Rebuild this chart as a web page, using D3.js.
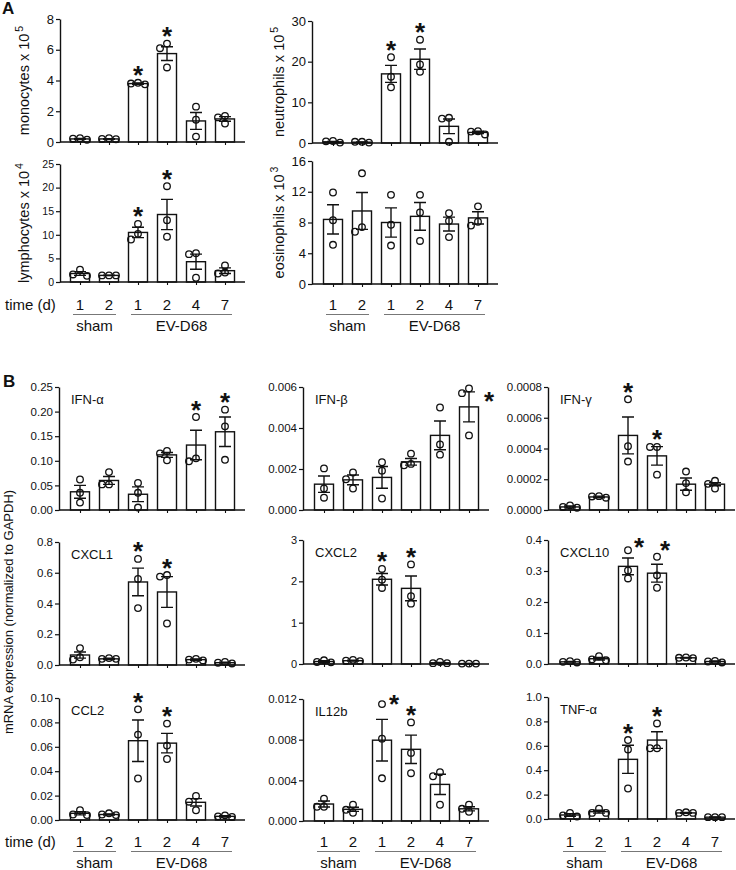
<!DOCTYPE html>
<html><head><meta charset="utf-8">
<script src="https://cdn.jsdelivr.net/npm/d3@7"></script>
<style>
body{margin:0;background:#fff}
svg{display:block}
text{font-family:"Liberation Sans",Arial,Helvetica,sans-serif;fill:#111}
</style>
</head><body>
<svg id="chart" width="736" height="870"></svg>
<script>
// ---------------- DATA ----------------
const timeLabels = ["1", "2", "1", "2", "4", "7"];
const groupNames = ["sham", "EV-D68"];
const groupSpans = [[0, 1], [2, 5]];

// Panel A
const monoMean = [0.2, 0.2, 3.8, 5.75, 1.37, 1.5];
const monoSem = [0.03, 0.02, 0.04, 0.45, 0.55, 0.15];
const monoPts = [[0.25, 0.15, 0.22], [0.25, 0.2, 0.18], [3.85, 3.75, 3.8], [6.4, 6.1, 4.85], [2.3, 1.45, 0.35], [1.2, 1.6, 1.7]];
const monoStars = [2, 3];

const neutMean = [0.3, 0.2, 17.0, 20.6, 4.1, 2.6];
const neutSem = [0.1, 0.05, 2.1, 2.5, 1.8, 0.3];
const neutPts = [[0.5, 0.1, 0.4], [0.3, 0.1, 0.3], [21.1, 16.3, 13.7], [25.4, 19.3, 17.5], [6.2, 6.0, 0.3], [2.9, 2.1, 2.8]];
const neutStars = [2, 3];

const lympMean = [1.8, 1.4, 10.5, 14.3, 4.3, 2.4];
const lympSem = [0.4, 0.05, 1.1, 3.2, 1.6, 0.6];
const lympPts = [[2.6, 1.6, 1.3], [1.4, 1.4, 1.4], [12.3, 10.2, 9.0], [20.3, 13.1, 9.6], [6.1, 5.9, 0.9], [3.5, 2.0, 1.8]];
const lympStars = [2, 3];

const eosiMean = [8.4, 9.5, 8.0, 8.8, 7.8, 8.6];
const eosiSem = [1.9, 2.4, 1.9, 1.8, 0.9, 0.8];
const eosiPts = [[11.9, 8.3, 5.1], [14.4, 7.4, 6.8], [11.6, 7.7, 5.0], [11.6, 9.3, 5.6], [9.2, 8.2, 6.1], [10.1, 8.1, 7.6]];
const eosiStars = [];

// Panel B
const ifnaMean = [0.037, 0.060, 0.032, 0.112, 0.132, 0.159];
const ifnaSem = [0.013, 0.008, 0.015, 0.005, 0.030, 0.030];
const ifnaPts = [[0.062, 0.035, 0.015], [0.077, 0.052, 0.052], [0.055, 0.035, 0.005], [0.120, 0.115, 0.101], [0.189, 0.105, 0.099], [0.204, 0.170, 0.102]];
const ifnaStars = [4, 5];

const ifnbMean = [0.00126, 0.00147, 0.00159, 0.00235, 0.00364, 0.00503];
const ifnbSem = [0.0004, 0.00024, 0.00053, 0.00016, 0.0007, 0.00073];
const ifnbPts = [[0.00203, 0.00105, 0.0006], [0.00183, 0.0015, 0.00105], [0.00233, 0.00192, 0.00056], [0.00275, 0.00225, 0.00218], [0.005, 0.0032, 0.0027], [0.00593, 0.0057, 0.00364]];
const ifnbStars = [5];

const ifngMean = [0.00002, 0.000085, 0.000485, 0.000352, 0.000168, 0.000168];
const ifngSem = [0.000006, 0.000005, 0.00012, 0.00006, 0.00004, 0.00001];
const ifngPts = [[0.00003, 0.000015, 0.00002], [0.00009, 0.00008, 0.000088], [0.00072, 0.000415, 0.000315], [0.00041, 0.00041, 0.00023], [0.00025, 0.000175, 0.000115], [0.00019, 0.00017, 0.00014]];
const ifngStars = [2, 3];

const cxcl1Mean = [0.065, 0.04, 0.54, 0.475, 0.035, 0.015];
const cxcl1Sem = [0.02, 0.004, 0.09, 0.10, 0.004, 0.003];
const cxcl1Pts = [[0.11, 0.05, 0.035], [0.045, 0.04, 0.04], [0.69, 0.56, 0.37], [0.585, 0.575, 0.27], [0.04, 0.03, 0.035], [0.02, 0.01, 0.015]];
const cxcl1Stars = [2, 3];

const cxcl2Mean = [0.06, 0.08, 2.05, 1.83, 0.03, 0.01];
const cxcl2Sem = [0.02, 0.01, 0.14, 0.30, 0.01, 0.003];
const cxcl2Pts = [[0.09, 0.04, 0.05], [0.1, 0.07, 0.08], [2.3, 2.04, 1.84], [2.41, 1.64, 1.46], [0.05, 0.02, 0.02], [0.01, 0.01, 0.01]];
const cxcl2Stars = [2, 3];

const cxcl10Mean = [0.007, 0.017, 0.315, 0.293, 0.02, 0.008];
const cxcl10Sem = [0.001, 0.004, 0.027, 0.029, 0.001, 0.002];
const cxcl10Pts = [[0.009, 0.005, 0.007], [0.025, 0.015, 0.012], [0.367, 0.302, 0.276], [0.346, 0.286, 0.246], [0.021, 0.02, 0.019], [0.01, 0.005, 0.008]];
const cxcl10Stars = [2, 3];

const ccl2Mean = [0.0055, 0.0045, 0.065, 0.063, 0.0145, 0.003];
const ccl2Sem = [0.0013, 0.0005, 0.017, 0.008, 0.003, 0.0005];
const ccl2Pts = [[0.008, 0.004, 0.0045], [0.0055, 0.004, 0.0045], [0.0907, 0.07, 0.034], [0.079, 0.061, 0.05], [0.0197, 0.015, 0.008], [0.0038, 0.003, 0.0025]];
const ccl2Stars = [2, 3];

const il12bMean = [0.00167, 0.00115, 0.00795, 0.00705, 0.0036, 0.0012];
const il12bSem = [0.0003, 0.0002, 0.00205, 0.0014, 0.001, 0.0002];
const il12bPts = [[0.0022, 0.0014, 0.0014], [0.0016, 0.0011, 0.0008], [0.0115, 0.0081, 0.0042], [0.0097, 0.0067, 0.0047], [0.0048, 0.0044, 0.0016], [0.0016, 0.0012, 0.0009]];
const il12bStars = [2, 3];

const tnfMean = [0.033, 0.06, 0.489, 0.647, 0.05, 0.015];
const tnfSem = [0.01, 0.012, 0.115, 0.068, 0.003, 0.002];
const tnfPts = [[0.05, 0.03, 0.02], [0.085, 0.05, 0.05], [0.647, 0.57, 0.25], [0.783, 0.58, 0.58], [0.055, 0.05, 0.05], [0.015, 0.015, 0.015]];
const tnfStars = [2, 3];

// tick values
const monoTicks = [0, 2, 4, 6, 8];
const neutTicks = [0, 10, 20, 30];
const lympTicks = [0, 5, 10, 15, 20, 25];
const eosiTicks = [0, 4, 8, 12, 16];
const ifnaTicks = [0, 0.05, 0.10, 0.15, 0.20, 0.25];
const ifnbTicks = [0, 0.002, 0.004, 0.006];
const ifngTicks = [0, 0.0002, 0.0004, 0.0006, 0.0008];
const cxcl1Ticks = [0, 0.2, 0.4, 0.6, 0.8];
const cxcl2Ticks = [0, 1, 2, 3];
const cxcl10Ticks = [0, 0.1, 0.2, 0.3, 0.4];
const ccl2Ticks = [0, 0.02, 0.04, 0.06, 0.08, 0.10];
const il12bTicks = [0, 0.004, 0.008, 0.012];
const tnfTicks = [0, 0.2, 0.4, 0.6, 0.8, 1.0];

// ---------------- DRAWING ----------------
const svg = d3.select("#chart");
const STEP = 29, BARW = 19;

function drawPanel(p) {
  const g = svg.append("g");
  const idx = d3.range(p.mean.length);
  const x = d3.scalePoint().domain(idx).range([p.x0 + p.first, p.x0 + p.first + STEP * (idx.length - 1)]);
  const y = d3.scaleLinear().domain([0, p.ticks[p.ticks.length - 1]]).range([p.bottom, p.top]);
  const xEnd = x(idx.length - 1) + 20;

  // bars
  g.selectAll("rect.bar").data(idx).join("rect")
    .attr("x", i => x(i) - BARW / 2).attr("width", BARW)
    .attr("y", i => y(p.mean[i])).attr("height", i => p.bottom - y(p.mean[i]))
    .attr("fill", "#fff").attr("stroke", "#111").attr("stroke-width", 1.4);

  // points (simple swarm)
  idx.forEach(i => {
    const placed = [];
    const vals = p.pts[i].slice().sort((a, b) => b - a);
    vals.forEach(v => {
      const py = y(v);
      const offs = [0, -7, 7, -14, 14];
      let ox = 0;
      for (const o of offs) {
        if (placed.every(q => Math.hypot(q[0] - o, q[1] - py) >= 6.8)) { ox = o; break; }
      }
      placed.push([ox, py]);
      g.append("circle").attr("cx", x(i) + ox).attr("cy", py).attr("r", 3.3)
        .attr("fill", "none").attr("stroke", "#111").attr("stroke-width", 1.3);
    });
  });

  // error bars
  idx.forEach(i => {
    const yt = y(p.mean[i] + p.sem[i]), yb = y(Math.max(0, p.mean[i] - p.sem[i]));
    const cx = x(i);
    g.append("path").attr("d", `M${cx},${yt}V${yb}M${cx - 6},${yt}H${cx + 6}M${cx - 6},${yb}H${cx + 6}`)
      .attr("stroke", "#111").attr("stroke-width", 1.4).attr("fill", "none");
  });

  // stars
  p.stars.forEach(i => {
    const maxV = Math.max(d3.max(p.pts[i]), p.mean[i] + p.sem[i]);
    let sx = x(i), sy = y(maxV) - 13;
    if (p.sideStars && p.sideStars[i] !== undefined) {
      sx = x(i) + p.sideStars[i][0];
      sy = y(maxV) + p.sideStars[i][1];
    }
    g.append("text").attr("x", sx).attr("y", sy + 14.5).attr("text-anchor", "middle")
      .style("font-size", "26px").style("font-weight", "bold").text("*");
  });

  // y axis
  const ya = g.append("g").attr("transform", `translate(${p.x0},0)`)
    .call(d3.axisLeft(y).tickValues(p.ticks).tickFormat(p.fmt).tickSize(4).tickSizeOuter(0).tickPadding(2));
  ya.select(".domain").attr("stroke", "#111").attr("stroke-width", 1.4);
  ya.selectAll(".tick line").attr("stroke", "#111").attr("stroke-width", 1.2);
  ya.selectAll(".tick text").attr("fill", "#111").style("font-size", p.tickFont + "px")
    .style("font-family", '"Liberation Sans",Arial,sans-serif');

  // x axis
  const xa = g.append("g").attr("transform", `translate(0,${p.bottom})`)
    .call(d3.axisBottom(x).tickFormat("").tickSize(3).tickSizeOuter(0));
  xa.select(".domain").remove();
  xa.selectAll(".tick line").attr("stroke", "#111").attr("stroke-width", 1.1);
  g.append("line").attr("x1", p.x0).attr("x2", xEnd).attr("y1", p.bottom).attr("y2", p.bottom)
    .attr("stroke", "#111").attr("stroke-width", 1.4);

  // y label
  if (p.ylab) {
    const t = g.append("text").attr("transform", `translate(${p.ylabX},${(p.top + p.bottom) / 2}) rotate(-90)`)
      .attr("text-anchor", "middle").style("font-size", "14.5px");
    t.append("tspan").text(p.ylab[0]);
    t.append("tspan").attr("dy", -6).attr("dx", 2).style("font-size", "10.5px").text(p.ylab[1]);
  }
  // gene label
  if (p.gene) {
    g.append("text").attr("x", p.x0 + 12).attr("y", p.top + 17).style("font-size", "13px").text(p.gene);
  }
  // time axis
  if (p.timeY) {
    idx.forEach(i => {
      g.append("text").attr("x", x(i)).attr("y", p.timeY).attr("text-anchor", "middle")
        .style("font-size", "15px").text(timeLabels[i]);
    });
    groupSpans.forEach((s, k) => {
      const a = x(s[0]) - 7, b = x(s[1]) + 7;
      g.append("line").attr("x1", a).attr("x2", b).attr("y1", p.timeY + 4.5).attr("y2", p.timeY + 4.5)
        .attr("stroke", "#777").attr("stroke-width", 1);
      g.append("text").attr("x", (a + b) / 2).attr("y", p.timeY + 21).attr("text-anchor", "middle")
        .style("font-size", "15px").text(groupNames[k]);
    });
    if (p.showTime) {
      g.append("text").attr("x", 5).attr("y", p.timeY).style("font-size", "15px").text("time (d)");
    }
  }
}

const fInt = d3.format("d");
const panels = [
  {mean: monoMean, sem: monoSem, pts: monoPts, stars: monoStars, ticks: monoTicks, fmt: fInt, x0: 60, first: 20, top: 19, bottom: 142, tickFont: 13, ylab: ["monocytes x 10", "5"], ylabX: 29},
  {mean: neutMean, sem: neutSem, pts: neutPts, stars: neutStars, ticks: neutTicks, fmt: fInt, x0: 312, first: 21, top: 21, bottom: 143, tickFont: 13, ylab: ["neutrophils x 10", "5"], ylabX: 284},
  {mean: lympMean, sem: lympSem, pts: lympPts, stars: lympStars, ticks: lympTicks, fmt: fInt, x0: 60, first: 20, top: 164, bottom: 282, tickFont: 10.5, ylab: ["lymphocytes x 10", "4"], ylabX: 29, timeY: 310, showTime: true},
  {mean: eosiMean, sem: eosiSem, pts: eosiPts, stars: eosiStars, ticks: eosiTicks, fmt: fInt, x0: 312, first: 21, top: 161, bottom: 284, tickFont: 13, ylab: ["eosinophils x 10", "3"], ylabX: 284, timeY: 310},

  {mean: ifnaMean, sem: ifnaSem, pts: ifnaPts, stars: ifnaStars, ticks: ifnaTicks, fmt: d3.format(".2f"), x0: 59, first: 21, top: 387, bottom: 510, tickFont: 11.5, gene: "IFN-α"},
  {mean: ifnbMean, sem: ifnbSem, pts: ifnbPts, stars: ifnbStars, ticks: ifnbTicks, fmt: d3.format(".3f"), x0: 303, first: 21, top: 387, bottom: 510, tickFont: 11.5, gene: "IFN-β", sideStars: {5: [20, 7]}},
  {mean: ifngMean, sem: ifngSem, pts: ifngPts, stars: ifngStars, ticks: ifngTicks, fmt: d3.format(".4f"), x0: 548, first: 22, top: 387, bottom: 510, tickFont: 11.5, gene: "IFN-γ"},

  {mean: cxcl1Mean, sem: cxcl1Sem, pts: cxcl1Pts, stars: cxcl1Stars, ticks: cxcl1Ticks, fmt: d3.format(".1f"), x0: 59, first: 21, top: 542, bottom: 665, tickFont: 11.5, gene: "CXCL1"},
  {mean: cxcl2Mean, sem: cxcl2Sem, pts: cxcl2Pts, stars: cxcl2Stars, ticks: cxcl2Ticks, fmt: fInt, x0: 303, first: 21, top: 540, bottom: 664, tickFont: 11, gene: "CXCL2"},
  {mean: cxcl10Mean, sem: cxcl10Sem, pts: cxcl10Pts, stars: cxcl10Stars, ticks: cxcl10Ticks, fmt: d3.format(".1f"), x0: 548, first: 22, top: 540, bottom: 664, tickFont: 11.5, gene: "CXCL10", sideStars: {2: [11, -9], 3: [8, -12]}},

  {mean: ccl2Mean, sem: ccl2Sem, pts: ccl2Pts, stars: ccl2Stars, ticks: ccl2Ticks, fmt: d3.format(".2f"), x0: 59, first: 21, top: 698, bottom: 820, tickFont: 11.5, gene: "CCL2", timeY: 847, showTime: true},
  {mean: il12bMean, sem: il12bSem, pts: il12bPts, stars: il12bStars, ticks: il12bTicks, fmt: d3.format(".3f"), x0: 303, first: 21, top: 699, bottom: 821, tickFont: 11.5, gene: "IL12b", timeY: 847, sideStars: {2: [12, -6]}},
  {mean: tnfMean, sem: tnfSem, pts: tnfPts, stars: tnfStars, ticks: tnfTicks, fmt: d3.format(".1f"), x0: 548, first: 22, top: 697, bottom: 819, tickFont: 11.5, gene: "TNF-α", timeY: 847}
];
panels.forEach(drawPanel);

// panel letters & shared label
svg.append("text").attr("x", 2).attr("y", 14).style("font-size", "17px").style("font-weight", "bold").text("A");
svg.append("text").attr("x", 3).attr("y", 387).style("font-size", "17px").style("font-weight", "bold").text("B");
svg.append("text").attr("transform", "translate(13,612) rotate(-90)").attr("text-anchor", "middle")
  .style("font-size", "13px").text("mRNA expression (normalized to GAPDH)");
</script>
</body></html>
